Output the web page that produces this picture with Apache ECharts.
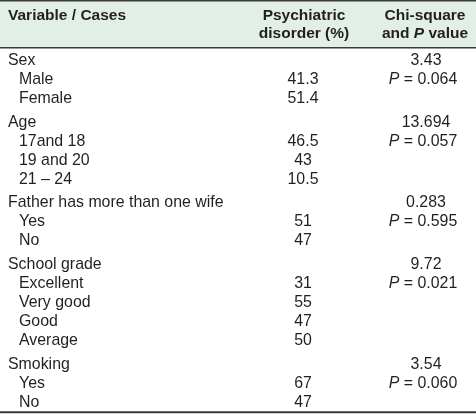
<!DOCTYPE html>
<html>
<head>
<meta charset="utf-8">
<script src="https://cdn.jsdelivr.net/npm/echarts@6/dist/echarts.min.js"></script>
<style>
html,body{margin:0;padding:0;background:#fff;}
#chart{width:476px;height:414px;}
</style>
</head>
<body>
<div id="chart"></div>
<script>
// ---- Data ----
const headerVariable = 'Variable / Cases';
const headerPsych = ['Psychiatric', 'disorder (%)'];
const headerChi = ['Chi-square', 'and P value'];
const groups = ['Sex', 'Age', 'Father has more than one wife', 'School grade', 'Smoking'];
const cases = [
  ['Male', 'Female'],
  ['17and 18', '19 and 20', '21 \u2013 24'],
  ['Yes', 'No'],
  ['Excellent', 'Very good', 'Good', 'Average'],
  ['Yes', 'No']
];
const percentages = [
  [41.3, 51.4],
  [46.5, 43, 10.5],
  [51, 47],
  [31, 55, 47, 50],
  [67, 47]
];
const chiSquare = ['3.43', '13.694', '0.283', '9.72', '3.54'];
const pValues = ['0.064', '0.057', '0.595', '0.021', '0.060'];

// ---- Layout ----
const W = 476, H = 414;
const FONT = '"Liberation Sans", Arial, Helvetica, sans-serif';
const FS = 15.9;
const FSB = 15.5;
const TXT = '#231f20';
const firstRowY = 60.5, rowH = 19, groupGap = 4.7;
const colLeft = 8, colIndent = 19, colPsych = 303, colChi = 425;

// build row list
const rows = [];
let r = 0;
groups.forEach((g, gi) => {
  rows.push({ kind: 'group', gi: gi, ci: -1, row: r++ });
  cases[gi].forEach((c, ci) => rows.push({ kind: 'case', gi: gi, ci: ci, row: r++ }));
});
const seriesData = rows.map(o => [o.row, o.gi, o.ci]);

function rowY(row, gi) { return firstRowY + row * rowH + gi * groupGap; }

const chart = echarts.init(document.getElementById('chart'), null, { renderer: 'canvas' });

const plainStyle = { fontFamily: FONT, fontSize: FS, fill: TXT };

chart.setOption({
  animation: false,
  backgroundColor: '#ffffff',
  grid: { left: 0, right: 0, top: 0, bottom: 0 },
  xAxis: { type: 'value', min: 0, max: W, show: false },
  yAxis: { type: 'value', min: 0, max: H, inverse: true, show: false },
  graphic: [
    { type: 'rect', shape: { x: 0, y: 0, width: W, height: 47 }, style: { fill: '#e1efe6' }, z: -10 },
    { type: 'rect', shape: { x: 0, y: 0, width: W, height: 1.6 }, style: { fill: '#3a3a3a' } },
    { type: 'rect', shape: { x: 0, y: 47, width: W, height: 1.5 }, style: { fill: '#3a3a3a' } },
    { type: 'rect', shape: { x: 0, y: 411.2, width: W, height: 2 }, style: { fill: '#3a3a3a' } },
    { type: 'text', x: colLeft, y: 15.5, style: { text: headerVariable, font: 'bold ' + FSB + 'px ' + FONT, fill: TXT, align: 'left', verticalAlign: 'middle' } },
    { type: 'text', x: colPsych + 1, y: 15.5, style: { text: headerPsych[0], font: 'bold ' + FSB + 'px ' + FONT, fill: TXT, align: 'center', verticalAlign: 'middle' } },
    { type: 'text', x: colPsych + 1, y: 33.5, style: { text: headerPsych[1], font: 'bold ' + FSB + 'px ' + FONT, fill: TXT, align: 'center', verticalAlign: 'middle' } },
    { type: 'text', x: colChi, y: 15.5, style: { text: headerChi[0], font: 'bold ' + FSB + 'px ' + FONT, fill: TXT, align: 'center', verticalAlign: 'middle' } },
    { type: 'text', x: colChi, y: 33.5, style: {
      text: '{n|and }{i|P}{n| value}',
      align: 'center', verticalAlign: 'middle',
      rich: {
        n: { fontFamily: FONT, fontSize: FSB, fontWeight: 'bold', fill: TXT, color: TXT },
        i: { fontFamily: FONT, fontSize: FSB, fontWeight: 'bold', fontStyle: 'italic', fill: TXT, color: TXT }
      }
    } }
  ],
  series: [{
    type: 'custom',
    coordinateSystem: 'cartesian2d',
    data: seriesData,
    renderItem: function (params, api) {
      const row = api.value(0), gi = api.value(1), ci = api.value(2);
      const y = api.coord([0, rowY(row, gi)])[1];
      const children = [];
      const xL = api.coord([colLeft, 0])[0];
      const xI = api.coord([colIndent, 0])[0];
      const xP = api.coord([colPsych, 0])[0];
      const xC = api.coord([colChi, 0])[0];
      if (ci < 0) {
        children.push({ type: 'text', style: Object.assign({ text: groups[gi], x: xL, y: y, align: 'left', verticalAlign: 'middle' }, plainStyle) });
        children.push({ type: 'text', style: Object.assign({ text: chiSquare[gi], x: xC + 1, y: y, align: 'center', verticalAlign: 'middle' }, plainStyle) });
      } else {
        children.push({ type: 'text', style: Object.assign({ text: cases[gi][ci], x: xI, y: y, align: 'left', verticalAlign: 'middle' }, plainStyle) });
        children.push({ type: 'text', style: Object.assign({ text: String(percentages[gi][ci]), x: xP, y: y, align: 'center', verticalAlign: 'middle' }, plainStyle) });
        if (ci === 0) {
          children.push({ type: 'text', style: {
            text: '{i|P}{n| = ' + pValues[gi] + '}', x: xC - 2, y: y, align: 'center', verticalAlign: 'middle',
            rich: {
              n: { fontFamily: FONT, fontSize: FS, fill: TXT, color: TXT },
              i: { fontFamily: FONT, fontSize: FS, fontStyle: 'italic', fill: TXT, color: TXT }
            }
          } });
        }
      }
      return { type: 'group', children: children };
    }
  }]
});
</script>
</body>
</html>
